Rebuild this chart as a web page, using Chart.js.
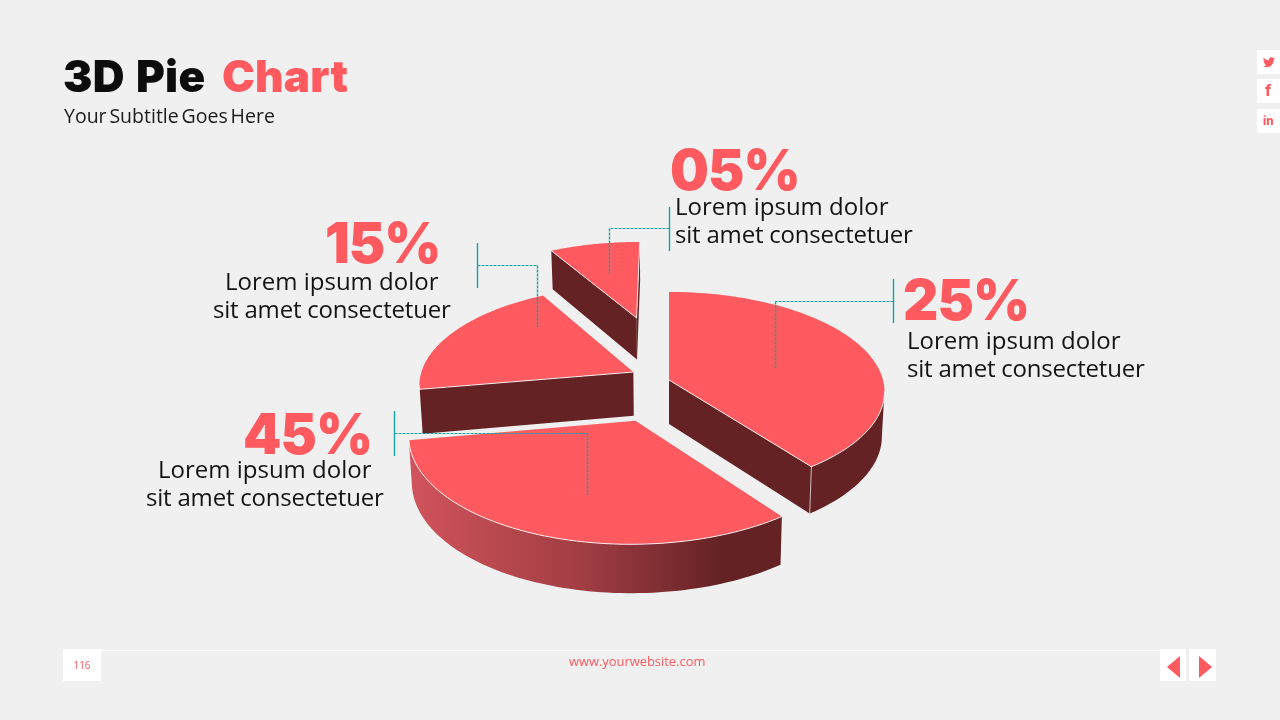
<!DOCTYPE html>
<html><head><meta charset="utf-8">
<script src="https://cdn.jsdelivr.net/npm/chart.js@4"></script>
<style>
html,body{margin:0;padding:0;background:#f0f0f0;width:1280px;height:720px;overflow:hidden;font-family:"Open Sans",sans-serif}
#c{position:absolute;left:0;top:0}
#ov{position:absolute;left:0;top:0;pointer-events:none}
.t{position:absolute;white-space:nowrap;line-height:1}
.box{position:absolute;background:#fff}
.pct{font-family:Inter,sans-serif;font-weight:900;color:#ff5a5f;font-size:57px;letter-spacing:-1px;transform:scaleX(.96);transform-origin:0 0}
.body{font-size:24px;color:#141414}
</style></head><body>
<canvas id="c" width="1280" height="720"></canvas>
<svg id="ov" width="1280" height="720"></svg>
<script>
// Data
const sliceNames  = ['25%','45%','15%','05%'];           // printed label of each wedge, clockwise from 12 o'clock
const sliceShares = [39.7,32.5,19.7,8.1];                // size of each wedge as actually drawn
const calloutLine1 = 'Lorem ipsum dolor';
const calloutLine2 = 'sit amet consectetuer';
const pageNumber = '116';
const website = 'www.yourwebsite.com';

// View settings
const RED='#ff5a5f', DARK='#642224';
const persp=0.00055, squash=0.46, depth=44, baseShrink=0.988;
const explodeX=[0,-32,-36,-35], explodeY=[0,84.5,-17.4,-145.6];
const paintOrder=[3,2,0,1];

function solid3d(chart){
  const ctx=chart.ctx, arcs=chart.getDatasetMeta(0).data;
  const P=(X,Y,a)=>{const w=1-persp*Y;
    return {x:a.x+X/w,y:a.y+squash*Y/w,w};};
  const B=(p,a)=>({x:a.x+(p.x-a.x)*baseShrink,y:p.y+depth+30*(1-p.w)});
  const side=ctx.createLinearGradient(415,0,722,0);
  side.addColorStop(0,'#cf535a');side.addColorStop(.55,'#a03d43');side.addColorStop(1,DARK);
  ctx.save();
  ctx.lineJoin='round';
  for(const i of paintOrder){
    const a=arcs[i], ox=explodeX[i], oy=explodeY[i], R=a.outerRadius;
    const pts=[P(ox,oy,a)];
    const n=80;
    for(let k=0;k<=n;k++){const t=a.startAngle+(a.endAngle-a.startAngle)*k/n;
      pts.push(P(ox+R*Math.cos(t),oy+R*Math.sin(t),a));}
    // front-facing wall runs
    const m=pts.length, runs=[]; let cur=null;
    for(let k=0;k<m;k++){const p=pts[k],q=pts[(k+1)%m];
      if(q.x-p.x<-0.001){ if(!cur){cur=[p];runs.push(cur);} cur.push(q);} else cur=null;}
    ctx.fillStyle=i===1?side:DARK;
    for(const r of runs){
      ctx.beginPath();r.forEach((p,k)=>k?ctx.lineTo(p.x,p.y):ctx.moveTo(p.x,p.y));
      for(let k=r.length-1;k>=0;k--){const b=B(r[k],a);ctx.lineTo(b.x,b.y);}
      ctx.closePath();ctx.fill();
    }
    // top face
    ctx.beginPath();pts.forEach((p,k)=>k?ctx.lineTo(p.x,p.y):ctx.moveTo(p.x,p.y));ctx.closePath();
    ctx.fillStyle=a.options.backgroundColor;ctx.fill();
    // pale rim where the top meets a visible wall
    ctx.strokeStyle='rgba(255,255,255,.85)';ctx.lineWidth=1;
    for(const r of runs){
      ctx.beginPath();r.forEach((p,k)=>k?ctx.lineTo(p.x,p.y):ctx.moveTo(p.x,p.y));ctx.stroke();
    }
    // pale vertical at the wedge corner that has walls on both sides
    const end=pts[m-1], prev=pts[m-2], next=pts[0];
    if(end.x-prev.x<0 && next.x-end.x<0){
      const b=B(end,a);ctx.strokeStyle='rgba(255,255,255,.7)';ctx.beginPath();ctx.moveTo(end.x,end.y);ctx.lineTo(b.x,b.y);ctx.stroke();
    }
  }
  ctx.restore();
  return false;
}

new Chart(document.getElementById('c'),{
  type:'pie',
  data:{labels:sliceNames,datasets:[{data:sliceShares,backgroundColor:RED,borderWidth:0}]},
  options:{responsive:false,animation:false,events:[],
    layout:{padding:{top:166,bottom:126,left:58,right:0}},
    plugins:{legend:{display:false},tooltip:{enabled:false}}},
  plugins:[{id:'solid3d',beforeDatasetsDraw:solid3d}]
});

// Leader lines: [bar x, bar top, bar bottom, elbow x, elbow y, drop end y]
const leaders=[[893,279,323,775,301,368],[394,411,456,587,433,495],[477,243,288,537,265,327],[669,207,251,609,228,274]];
const NS='http://www.w3.org/2000/svg', ov=document.getElementById('ov');
const seg=(x1,y1,x2,y2,dash,col,wd)=>{const l=document.createElementNS(NS,'line');
  l.setAttribute('x1',x1);l.setAttribute('y1',y1);l.setAttribute('x2',x2);l.setAttribute('y2',y2);
  l.setAttribute('stroke',col);l.setAttribute('stroke-width',wd||1);
  if(dash)l.setAttribute('stroke-dasharray',dash);ov.appendChild(l);};
for(const [bx,bt,bb,ex,ey,de] of leaders){
  const X=bx+.5,EX=ex+.5,EY=ey+.5;
  seg(X,bt,X,bb,null,'#16a3a3',1.4);
  seg(X,EY,EX,EY,'3 1','#16a3a3',1.2);
  seg(EX,EY,EX,de,'3 1','#16a3a3',1.4);
}

function text(s,x,cy,css,cls){const d=document.createElement('div');d.className='t '+(cls||'');d.textContent=s;
  d.style.left=x+'px';d.style.top=cy+'px';if(css)d.style.cssText+=css;document.body.appendChild(d);return d;}
function box(x,y,w,h){const d=document.createElement('div');d.className='box';
  d.style.cssText+=`left:${x}px;top:${y}px;width:${w}px;height:${h}px`;document.body.appendChild(d);}

// Callouts: [percent x, percent top, line1 x, line1 top, line2 x, line2 top]
const calloutPos=[[903,271,907,328,907,356],[243,405,158,457,146,485],[325,214,225,269,213,297],[670,141,675,194,675,222]];
calloutPos.forEach((c,i)=>{
  text(sliceNames[i],c[0],c[1],'','pct');
  text(calloutLine1,c[2],c[3],'','body');
  text(calloutLine2,c[4],c[5],'letter-spacing:-.2px','body');
});

// Title
const ttl='font-family:Inter,sans-serif;font-weight:900;font-size:44px;';
text('3D Pie',63,54,ttl+'color:#0d0d0d;letter-spacing:.3px;word-spacing:2px');
text('Chart',222,54,ttl+'color:#ff5a5f;letter-spacing:.2px');
text('Your Subtitle Goes Here',64,106,'font-size:19.5px;color:#1a1a1a;word-spacing:-2.2px');

// Footer
seg(101,650.5,1160,650.5,null,'#ffffff');
box(63,649,38,32);box(1160,649,26,32);box(1189,649,27,32);
text(pageNumber,63,660,'width:38px;text-align:center;font-size:10px;color:#ff5a5f');
text(website,569,655,'font-size:12.9px;color:#ff5a5f');
const tri=(p)=>{const e=document.createElementNS(NS,'polygon');e.setAttribute('points',p);e.setAttribute('fill',RED);ovTop.appendChild(e);};

// Social tabs
box(1257,50,23,24);box(1257,79,23,24);box(1257,109,23,24);
const ovTop=document.createElementNS(NS,'svg');
ovTop.setAttribute('width',1280);ovTop.setAttribute('height',720);
ovTop.style.cssText='position:absolute;left:0;top:0';document.body.appendChild(ovTop);
tri('1180,656 1180,678 1167,667');tri('1199,656 1199,678 1212,667');
const bird=document.createElementNS(NS,'path');
bird.setAttribute('d','M22.46 6c-.77.35-1.6.58-2.46.69.88-.53 1.56-1.37 1.88-2.38-.83.5-1.75.85-2.72 1.05C18.37 4.5 17.26 4 16 4c-2.35 0-4.27 1.92-4.27 4.29 0 .34.04.67.11.98C8.28 9.09 5.11 7.38 3 4.79c-.37.63-.58 1.37-.58 2.15 0 1.49.75 2.81 1.91 3.56-.71 0-1.37-.2-1.95-.5v.03c0 2.08 1.48 3.82 3.44 4.21a4.22 4.22 0 0 1-1.93.07 4.28 4.28 0 0 0 4 2.98 8.521 8.521 0 0 1-5.33 1.84c-.34 0-.68-.02-1.02-.06C3.44 20.29 5.7 21 8.12 21 16 21 20.33 14.46 20.33 8.79c0-.19 0-.37-.01-.56.84-.6 1.56-1.36 2.14-2.23z');
bird.setAttribute('fill',RED);bird.setAttribute('transform','translate(1262,55) scale(.58)');ovTop.appendChild(bird);
text('f',1265,83,'font-family:Inter,sans-serif;font-weight:800;font-size:15px;color:#ff5a5f');
text('in',1263,116,'font-family:Inter,sans-serif;font-weight:800;font-size:11.5px;color:#ff5a5f');
</script>
</body></html>
